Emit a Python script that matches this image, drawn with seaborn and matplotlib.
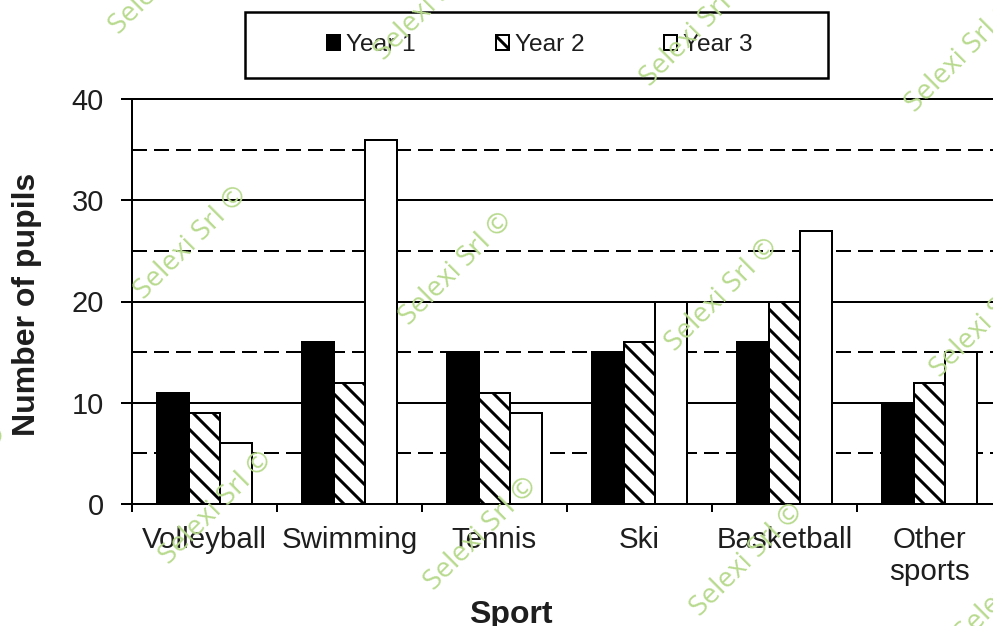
import numpy as np
import pandas as pd
import matplotlib
matplotlib.use("Agg")
import matplotlib.pyplot as plt
from matplotlib.ticker import MultipleLocator, FixedLocator
from matplotlib.patches import Rectangle, Patch
import seaborn as sns

# Data
sports = ["Volleyball", "Swimming", "Tennis", "Ski", "Basketball", "Other\nsports"]
years = ["Year 1", "Year 2", "Year 3"]
year1 = [11, 16, 15, 15, 16, 10]
year2 = [9, 12, 11, 16, 20, 12]
year3 = [6, 36, 9, 20, 27, 15]

DPI = 120
W, H = 993, 626


def pt(px):
    """Convert a size given in pixels to points at the figure dpi."""
    return px * 72.0 / DPI


sns.set_theme(style="white")
plt.rcParams["font.family"] = ["Liberation Sans", "DejaVu Sans"]
plt.rcParams["hatch.linewidth"] = pt(3)
plt.rcParams["hatch.color"] = "black"

df = pd.DataFrame({
    "Sport": sports * len(years),
    "Year": np.repeat(years, len(sports)),
    "Pupils": year1 + year2 + year3,
})

fig = plt.figure(figsize=(W / DPI, H / DPI), dpi=DPI)
fig.patch.set_facecolor("white")
ax = fig.add_axes([132 / W, 1 - 504 / H, 870 / W, 405 / H])

sns.barplot(
    data=df, x="Sport", y="Pupils", hue="Year",
    order=sports, hue_order=years,
    palette=["black", "white", "white"], saturation=1,
    edgecolor="black", linewidth=pt(2),
    width=0.66, gap=0, legend=False, ax=ax,
)
for bar in ax.containers[1]:
    bar.set_hatch("\\\\")

ax.set_xlim(-0.5, len(sports) - 0.5)
ax.set_ylim(0, 40)

# Solid major and dashed minor horizontal gridlines
ax.yaxis.set_major_locator(MultipleLocator(10))
ax.yaxis.set_minor_locator(MultipleLocator(5))
ax.grid(False)
ax.yaxis.grid(True, which="major", color="black", lw=pt(2), ls="-")
ax.yaxis.grid(True, which="minor", color="black", lw=pt(2), ls=(0, (7.5, 3.5)))
ax.set_axisbelow(True)

for side in ["left", "bottom", "top"]:
    ax.spines[side].set_visible(True)
    ax.spines[side].set_color("black")
    ax.spines[side].set_linewidth(pt(2))
ax.spines["right"].set_visible(False)

text_color = "#1e1e1e"
ax.tick_params(axis="y", which="major", left=True, direction="out",
               length=pt(11), width=pt(2), color="black", pad=pt(17),
               labelsize=pt(29), labelcolor=text_color)
ax.tick_params(axis="y", which="minor", left=False, length=0)

ax.set_xticks(range(len(sports)))
ax.set_xticklabels(sports)
ax.xaxis.set_minor_locator(FixedLocator(np.arange(-0.5, len(sports), 1.0)))
ax.tick_params(axis="x", which="major", bottom=True, length=0, pad=pt(22),
               labelsize=pt(29.5), labelcolor=text_color)
ax.tick_params(axis="x", which="minor", bottom=True, direction="out",
               length=pt(8), width=pt(2), color="black")

ax.set_ylabel("Number of pupils", fontsize=pt(32), fontweight="bold", color=text_color)
ax.yaxis.set_label_coords((42 - 132) / 870, (504 - 304) / 405)
ax.set_xlabel("Sport", fontsize=pt(32), fontweight="bold", color=text_color)
ax.xaxis.set_label_coords((511 - 132) / 870, (504 - 600) / 405)

# Legend inside a framed box above the plot
handles = [
    Patch(facecolor="black", edgecolor="black", lw=pt(2)),
    Patch(facecolor="white", edgecolor="black", lw=pt(2), hatch="\\\\"),
    Patch(facecolor="white", edgecolor="black", lw=pt(2)),
]
fig.legend(handles, years, loc="center", bbox_to_anchor=(540 / W, 1 - 45 / H),
           bbox_transform=fig.transFigure, ncol=3, frameon=False,
           fontsize=pt(24.5), handlelength=0.53, handleheight=0.53,
           handletextpad=0.25, columnspacing=3.25, labelcolor=text_color)
fig.add_artist(Rectangle((245 / W, 1 - 78 / H), (828 - 245) / W, 66 / H,
                         transform=fig.transFigure, fill=False,
                         edgecolor="black", lw=pt(2.5), zorder=5))

# Copyright watermark tiled across the figure
base = np.array([191.0, 243.0])
step_a = np.array([265.5, 26.0])
step_b = np.array([25.0, 265.0])
half = 62
for i in range(-2, 4):
    for j in range(-1, 3):
        cx, cy = base + i * step_a + j * step_b
        if cx + half > 0 and cx - half < W and cy + half > 0 and cy - half < H:
            fig.text(cx / W, 1 - cy / H, "Selexi Srl ©", rotation=45,
                     rotation_mode="anchor", ha="center", va="center",
                     fontsize=pt(28), color="#b8da8e", family="Open Sans",
                     zorder=20)

fig.savefig("out.png", dpi=DPI)
